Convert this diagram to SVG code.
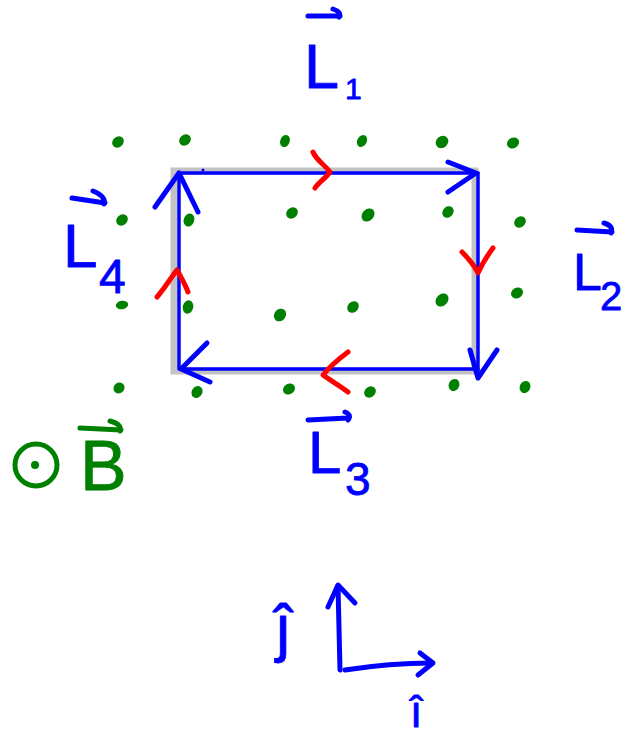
<svg xmlns="http://www.w3.org/2000/svg" width="632" height="739" viewBox="0 0 632 739">
<style>
.bl{stroke:#0000ff;fill:none;stroke-width:5;stroke-linecap:round;stroke-linejoin:round}
.edge{stroke:#0000ff;fill:none;stroke-width:3.5;stroke-linecap:round}
.rd{stroke:#ff0000;fill:none;stroke-width:5;stroke-linecap:round;stroke-linejoin:round}
.gr{stroke:#008000;fill:none;stroke-width:5;stroke-linecap:round;stroke-linejoin:round}
.dot{fill:#008000;stroke:#008000;stroke-width:1.5}
.t{font-family:"Liberation Sans",Arial,sans-serif;fill:#0000ff;stroke:#0000ff;stroke-width:0.8;stroke-linejoin:round}
.tg{font-family:"Liberation Sans",Arial,sans-serif;fill:#008000;stroke:#008000;stroke-width:0.8;stroke-linejoin:round}
</style>
<rect width="632" height="739" fill="#ffffff"/>
<g id="field" class="dot">
<ellipse cx="118" cy="142" rx="5.5" ry="4.5" transform="rotate(-40 118 142)"/>
<ellipse cx="185" cy="140" rx="5.5" ry="4.5" transform="rotate(-40 185 140)"/>
<ellipse cx="285" cy="141" rx="5.5" ry="4" transform="rotate(-70 285 141)"/>
<ellipse cx="362" cy="141" rx="5.5" ry="4" transform="rotate(-60 362 141)"/>
<ellipse cx="442" cy="142" rx="6" ry="5" transform="rotate(-40 442 142)"/>
<ellipse cx="513" cy="143" rx="5.5" ry="4.5" transform="rotate(-30 513 143)"/>
<ellipse cx="122" cy="220" rx="5.5" ry="4.5" transform="rotate(-40 122 220)"/>
<ellipse cx="189" cy="220" rx="6" ry="4.5" transform="rotate(-70 189 220)"/>
<ellipse cx="292" cy="213" rx="5.5" ry="4.5" transform="rotate(-40 292 213)"/>
<ellipse cx="368" cy="215" rx="6.5" ry="5" transform="rotate(-45 368 215)"/>
<ellipse cx="448" cy="212" rx="5.5" ry="4.5" transform="rotate(-50 448 212)"/>
<ellipse cx="520" cy="222" rx="5.5" ry="4.5" transform="rotate(-40 520 222)"/>
<ellipse cx="122" cy="305" rx="5.5" ry="3.5" transform="rotate(-10 122 305)"/>
<ellipse cx="188" cy="307" rx="6" ry="4.5" transform="rotate(-75 188 307)"/>
<ellipse cx="280" cy="315" rx="6" ry="5" transform="rotate(-50 280 315)"/>
<ellipse cx="353" cy="307" rx="5.5" ry="4.5" transform="rotate(-45 353 307)"/>
<ellipse cx="442" cy="300" rx="6.5" ry="5" transform="rotate(-45 442 300)"/>
<ellipse cx="517" cy="293" rx="5.5" ry="4.5" transform="rotate(-30 517 293)"/>
<ellipse cx="119" cy="388" rx="5" ry="4.5" transform="rotate(-40 119 388)"/>
<ellipse cx="197" cy="392" rx="5.5" ry="4.5" transform="rotate(-55 197 392)"/>
<ellipse cx="289" cy="389" rx="5.5" ry="4.5" transform="rotate(-30 289 389)"/>
<ellipse cx="370" cy="392" rx="5.5" ry="4.5" transform="rotate(-40 370 392)"/>
<ellipse cx="454" cy="385" rx="5.5" ry="4.5" transform="rotate(-65 454 385)"/>
<ellipse cx="525" cy="387" rx="5.5" ry="4.5" transform="rotate(-65 525 387)"/>
</g>
<g id="connectors">
<rect x="174" y="171" width="301" height="200" fill="none" stroke="#c3c3c3" stroke-width="7"/>
<path class="edge" d="M179,173 L478,173"/>
<path class="edge" d="M478,173 L478,378"/>
<path class="edge" d="M478,369 L180,369"/>
<path class="edge" d="M179,369 L179,173"/>
<circle cx="203" cy="170" r="1.5" fill="#0000ff"/>
<path class="bl" d="M448,162 L476,173 L448,192"/>
<path class="bl" d="M155,207 L179,173 L198,212"/>
<path class="bl" d="M207,343 L181,369 L210,382"/>
<path class="bl" d="M470,350 L478,378 L497,350"/>
<path class="rd" d="M313,152 C316,160 325,165 330,172 C326,178 318,183 315,188"/>
<path class="rd" d="M462,252 C468,258 474,265 478,273 C482,264 487,256 493,248"/>
<path class="rd" d="M348,352 C340,358 330,366 323,375 C330,380 340,386 348,392"/>
<path class="rd" d="M157,297 C164,289 170,279 177,270 C181,277 185,284 188,292"/>
</g>
<g id="L1">
<path class="bl" d="M308,16 L340,16 M333,9 Q342,12 339,17"/>
<text class="t" x="304" y="88" font-size="63">L</text>
<text class="t" x="345" y="99" font-size="30">1</text>
</g>
<g id="L2">
<path class="bl" d="M577,230 L612,232 M604,223 Q614,226 611,233"/>
<text class="t" x="573" y="290" font-size="52">L</text>
<text class="t" x="600" y="310" font-size="40">2</text>
</g>
<g id="L3">
<path class="bl" d="M308,420 L348,418 M345,412 Q352,415 348,420"/>
<text class="t" x="308" y="473" font-size="60">L</text>
<text class="t" x="345" y="495" font-size="46">3</text>
</g>
<g id="L4">
<path class="bl" d="M72,198 L105,203 M93,191 Q106,196 104,204"/>
<text class="t" x="63" y="267" font-size="62">L</text>
<text class="t" x="99" y="293" font-size="48">4</text>
</g>
<g id="B">
<circle class="gr" cx="36" cy="465" r="21"/>
<circle cx="35" cy="465" r="4" fill="#008000"/>
<path class="gr" d="M80,428 L121,430 M110,421 Q122,424 120,431"/>
<text class="tg" x="80" y="490" font-size="70">B</text>
</g>
<g id="axes">
<path class="bl" d="M340,670 L338,586"/>
<path class="bl" d="M328,607 L338,585 L355,603"/>
<path class="bl" d="M345,670 Q390,663 432,663"/>
<path class="bl" d="M420,653 L433,663 L418,675"/>
<text class="t" x="283" y="650" font-size="64" text-anchor="middle">ĵ</text>
<text class="t" x="416" y="727" font-size="44" text-anchor="middle">î</text>
</g>
</svg>
